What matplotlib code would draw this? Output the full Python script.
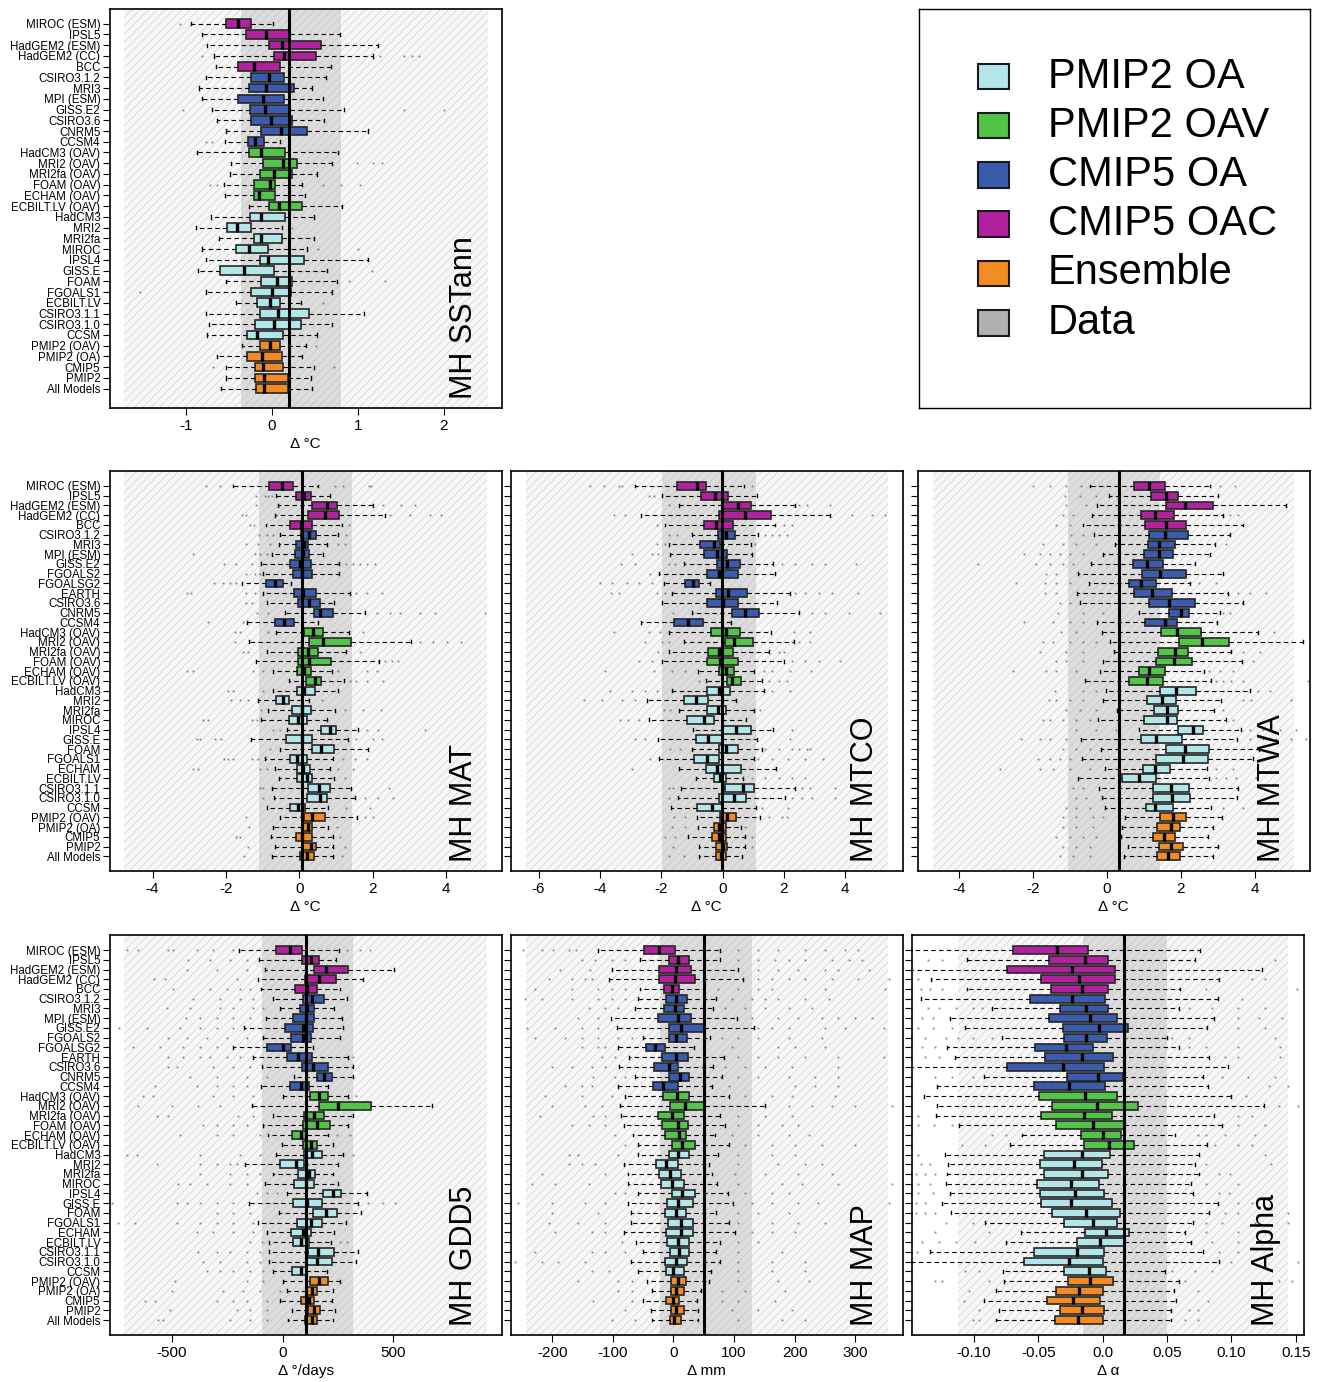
import matplotlib
matplotlib.use('Agg')
import matplotlib.pyplot as plt
from matplotlib.patches import Rectangle

plt.rcParams['font.family'] = ['Liberation Sans', 'DejaVu Sans']
plt.rcParams['axes.unicode_minus'] = False
plt.rcParams['hatch.linewidth'] = 0.45

'''
model names (top to bottom)
'''
sst_labels = ['MIROC (ESM)', 'IPSL5', 'HadGEM2 (ESM)', 'HadGEM2 (CC)', 'BCC',
              'CSIRO3.1.2', 'MRI3', 'MPI (ESM)', 'GISS.E2', 'CSIRO3.6', 'CNRM5', 'CCSM4',
              'HadCM3 (OAV)', 'MRI2 (OAV)', 'MRI2fa (OAV)', 'FOAM (OAV)', 'ECHAM (OAV)', 'ECBILT.LV (OAV)',
              'HadCM3', 'MRI2', 'MRI2fa', 'MIROC', 'IPSL4', 'GISS.E', 'FOAM', 'FGOALS1', 'ECBILT.LV',
              'CSIRO3.1.1', 'CSIRO3.1.0', 'CCSM',
              'PMIP2 (OAV)', 'PMIP2 (OA)', 'CMIP5', 'PMIP2', 'All Models']
land_labels = ['MIROC (ESM)', 'IPSL5', 'HadGEM2 (ESM)', 'HadGEM2 (CC)', 'BCC',
               'CSIRO3.1.2', 'MRI3', 'MPI (ESM)', 'GISS.E2', 'FGOALS2', 'FGOALSG2', 'EARTH', 'CSIRO3.6',
               'CNRM5', 'CCSM4',
               'HadCM3 (OAV)', 'MRI2 (OAV)', 'MRI2fa (OAV)', 'FOAM (OAV)', 'ECHAM (OAV)', 'ECBILT.LV (OAV)',
               'HadCM3', 'MRI2', 'MRI2fa', 'MIROC', 'IPSL4', 'GISS.E', 'FOAM', 'FGOALS1', 'ECHAM', 'ECBILT.LV',
               'CSIRO3.1.1', 'CSIRO3.1.0', 'CCSM',
               'PMIP2 (OAV)', 'PMIP2 (OA)', 'CMIP5', 'PMIP2', 'All Models']
sst_groups = ['CMIP5 OAC'] * 5 + ['CMIP5 OA'] * 7 + ['PMIP2 OAV'] * 6 + ['PMIP2 OA'] * 12 + ['Ensemble'] * 5
land_groups = ['CMIP5 OAC'] * 5 + ['CMIP5 OA'] * 10 + ['PMIP2 OAV'] * 6 + ['PMIP2 OA'] * 13 + ['Ensemble'] * 5

legend_names = ['PMIP2 OA', 'PMIP2 OAV', 'CMIP5 OA', 'CMIP5 OAC', 'Ensemble', 'Data']
legend_colors = ['#b2e6e8', '#52c447', '#3a5bae', '#b2229e', '#f28c22', '#b0b0b0']
group_colors = dict(zip(legend_names, legend_colors))

'''
box stats per row: [whisker low, q1, median, q3, whisker high]
'''
sst_stats = [[-0.94, -0.53, -0.39, -0.24, 0.01], [-0.81, -0.30, -0.07, 0.21, 0.79],
             [-0.75, -0.03, 0.12, 0.57, 1.23], [-0.67, 0.02, 0.14, 0.51, 1.18],
             [-0.65, -0.39, -0.21, 0.10, 0.69], [-0.77, -0.24, -0.03, 0.14, 0.63],
             [-0.85, -0.26, -0.07, 0.26, 0.47], [-0.81, -0.39, -0.10, 0.14, 0.59],
             [-0.70, -0.25, -0.08, 0.21, 0.84], [-0.64, -0.24, -0.01, 0.23, 0.61],
             [-0.53, -0.12, 0.11, 0.41, 1.12], [-0.54, -0.28, -0.19, -0.09, 0.09],
             [-0.87, -0.27, -0.12, 0.15, 0.77], [-0.47, -0.10, 0.13, 0.29, 0.70],
             [-0.49, -0.14, 0.03, 0.24, 0.53], [-0.56, -0.21, -0.02, 0.04, 0.35],
             [-0.54, -0.21, -0.15, 0.04, 0.39], [-0.26, -0.03, 0.08, 0.35, 0.82],
             [-0.71, -0.25, -0.12, 0.15, 0.49], [-0.88, -0.52, -0.40, -0.24, 0.12],
             [-0.61, -0.21, -0.12, 0.12, 0.49], [-0.81, -0.41, -0.26, -0.04, 0.41],
             [-0.77, -0.14, -0.04, 0.38, 1.12], [-0.86, -0.60, -0.32, 0.03, 0.64],
             [-0.53, -0.12, 0.06, 0.24, 0.76], [-0.76, -0.24, 0.00, 0.22, 0.70],
             [-0.41, -0.17, -0.02, 0.10, 0.34], [-0.76, -0.14, 0.07, 0.43, 1.07],
             [-0.73, -0.20, 0.02, 0.34, 0.70], [-0.75, -0.29, -0.17, 0.13, 0.53],
             [-0.35, -0.14, -0.02, 0.10, 0.40], [-0.64, -0.29, -0.11, 0.12, 0.35],
             [-0.53, -0.19, -0.10, 0.13, 0.49], [-0.53, -0.19, -0.09, 0.19, 0.45],
             [-0.59, -0.18, -0.09, 0.19, 0.47]]
sst_out = [[-1.07], [], [], [-0.81, 1.26, 1.54, 1.63, 1.71], [], [], [], [], [-1.03, 1.54, 2.0], [], [],
           [-0.76, -0.69], [], [0.99, 1.18, 1.28], [], [-0.72, -0.64, 0.59, 0.81, 1.02], [], [], [], [0.23],
           [], [0.54, 1.0], [], [1.16], [0.90, 1.31], [-1.53], [0.60], [], [], [], [0.51], [], [-0.68, 0.72],
           [], []]

mat_stats = [[-1.80, -0.82, -0.46, -0.16, 0.52], [-0.64, -0.09, 0.13, 0.31, 0.85],
             [-0.59, 0.35, 0.75, 1.04, 2.00], [-0.65, 0.25, 0.70, 1.09, 2.34],
             [-0.91, -0.25, 0.06, 0.36, 1.16], [-0.51, 0.06, 0.27, 0.47, 1.06],
             [-0.55, -0.08, 0.13, 0.25, 0.75], [-0.73, -0.12, 0.10, 0.28, 0.64],
             [-1.03, -0.25, 0.02, 0.32, 1.09], [-0.98, -0.17, 0.09, 0.36, 1.08],
             [-1.56, -0.90, -0.66, -0.45, -0.21], [-0.98, -0.14, 0.11, 0.47, 1.38],
             [-0.87, -0.02, 0.28, 0.57, 0.95], [-0.39, 0.40, 0.56, 0.93, 1.79],
             [-1.41, -0.65, -0.42, -0.13, 0.51], [-0.62, 0.14, 0.37, 0.64, 1.37],
             [-1.37, 0.26, 0.65, 1.40, 3.06], [-0.89, -0.03, 0.23, 0.50, 1.29],
             [-1.19, -0.02, 0.28, 0.88, 2.18], [-0.71, -0.06, 0.12, 0.33, 0.90],
             [-0.27, 0.19, 0.42, 0.60, 1.23], [-0.71, -0.05, 0.13, 0.42, 1.06],
             [-1.12, -0.62, -0.45, -0.28, 0.26], [-0.85, -0.19, 0.07, 0.33, 0.98],
             [-1.03, -0.29, -0.03, 0.21, 0.75], [-0.33, 0.60, 0.84, 1.01, 1.61],
             [-1.31, -0.35, 0.07, 0.36, 1.32], [-0.53, 0.34, 0.59, 0.96, 1.89],
             [-0.94, -0.24, -0.05, 0.22, 0.93], [-0.66, -0.07, 0.11, 0.30, 0.84],
             [-0.55, -0.05, 0.20, 0.34, 0.95], [-0.73, 0.23, 0.54, 0.85, 1.40],
             [-0.69, 0.20, 0.56, 0.77, 1.52], [-0.89, -0.26, -0.04, 0.15, 0.79],
             [-0.53, 0.13, 0.36, 0.71, 1.58], [-0.71, 0.08, 0.24, 0.35, 0.79],
             [-0.78, -0.09, 0.07, 0.35, 0.91], [-0.66, 0.08, 0.31, 0.45, 0.93],
             [-0.75, 0.03, 0.22, 0.40, 0.93]]
mat_out = [[-2.53, -2.16, 0.99, 1.2, 1.91, 1.97], [-1.19, -0.94, -0.85, -0.75], [-1.19, 2.29, 2.79, 3.15],
           [-1.57, -1.45, 2.47, 3.02, 3.56, 3.88], [-1.35, -1.24, 1.36], [-1.09, -0.89, -0.71, 1.29],
           [-1.44, -1.12, -0.8, 1.06, 1.25], [-2.89, -1.21, -1.07, -0.89],
           [-2.05, -1.71, -1.3, 1.29, 1.47, 1.65, 1.84, 2.06], [-1.44, -1.21, -1.07],
           [-2.32, -2.07, -1.89, -1.71], [-3.07, -2.96, -1.44, -1.21, 1.56, 1.84, 2.25], [-1.44, -1.3],
           [-1.16, -0.85, 2.11, 2.47, 2.75, 3.29, 3.7, 5.06], [-2.48, -1.53], [-1.75, -1.62, -0.85, 1.75],
           [-1.75, 3.29, 3.65, 4.02, 4.4], [-1.53, -1.39, 1.65], [2.34, 2.52, 2.7],
           [-3.07, -2.89, -1.25, -0.98, 1.06, 1.84, 2.11], [1.38, 1.56, 1.84, 2.29], [-1.94, -1.8, -0.98],
           [-1.86, -1.62, -1.39, 0.61], [-1.03, 1.25, 1.75, 2.22], [-2.62, -2.48, -1.3, -1.16],
           [-0.71, -0.53, 1.84, 2.15, 3.43], [-2.8, -2.71, -2.3, -2.12, 1.56, 2.02, 2.27], [-0.8],
           [-2.05, -1.94, -1.8, -1.3, -1.12, 1.2, 1.52, 1.84], [-2.89, -2.75, -1.07, -0.89, 1.06, 1.47],
           [1.25], [-1.07, -0.98, 2.45], [-1.0, 1.79, 2.15, 2.55], [1.29, 1.93], [-1.45, 1.79, 2.02],
           [-1.37, 1.02], [-1.71, -1.62, 1.11], [-1.39, 1.25], [-1.51, 1.17]]

mtco_stats = [[-2.87, -1.48, -0.84, -0.54, 0.71], [-1.98, -0.71, -0.24, 0.17, 1.14],
              [-1.41, -0.02, 0.49, 0.92, 2.37], [-2.65, -0.12, 0.72, 1.58, 3.51],
              [-1.87, -0.61, -0.22, 0.34, 1.72], [-1.00, -0.15, 0.11, 0.41, 1.17],
              [-1.76, -0.74, -0.29, -0.07, 0.92], [-1.71, -0.59, -0.17, 0.16, 0.96],
              [-1.27, -0.18, 0.15, 0.57, 1.64], [-2.07, -0.52, -0.10, 0.50, 1.72],
              [-1.92, -1.24, -0.95, -0.78, -0.40], [-1.65, -0.20, 0.17, 0.79, 2.21],
              [-1.98, -0.52, 0.03, 0.52, 1.79], [-1.00, 0.30, 0.72, 1.18, 2.48],
              [-2.65, -1.59, -1.11, -0.64, 0.28], [-1.76, -0.39, 0.10, 0.57, 1.58],
              [-1.27, 0.07, 0.37, 0.99, 2.32], [-1.76, -0.49, -0.12, 0.34, 1.50],
              [-1.98, -0.52, -0.08, 0.52, 1.99], [-0.80, -0.12, 0.10, 0.36, 1.04],
              [-0.54, 0.13, 0.32, 0.60, 1.28], [-1.65, -0.51, -0.13, 0.24, 1.34],
              [-2.46, -1.27, -0.86, -0.46, 0.45], [-1.43, -0.51, -0.15, 0.11, 1.01],
              [-2.41, -1.16, -0.62, -0.28, 0.77], [-0.95, 0.00, 0.43, 0.92, 1.66],
              [-2.12, -0.87, -0.46, -0.02, 1.12], [-1.00, -0.12, 0.11, 0.49, 1.28],
              [-2.07, -0.93, -0.52, -0.13, 1.01], [-1.41, -0.54, -0.17, 0.60, 1.74],
              [-0.87, -0.29, -0.07, 0.12, 0.68], [-1.36, 0.07, 0.66, 1.04, 2.37],
              [-1.46, -0.12, 0.37, 0.75, 2.04], [-1.68, -0.82, -0.35, -0.02, 1.09],
              [-0.84, -0.09, 0.13, 0.43, 1.23], [-0.80, -0.27, -0.10, 0.10, 0.60],
              [-1.11, -0.35, -0.13, 0.12, 0.74], [-0.78, -0.20, 0.00, 0.16, 0.72],
              [-0.78, -0.22, -0.04, 0.12, 0.65]]
mtco_out = [[-4.32, -3.88, -3.39, -3.28, 0.96], [-2.41, -2.25], [-1.76, 2.48, 2.75, 3.51],
            [-3.55, -3.17, 4.22, 4.87, 5.3], [-2.14, 1.99, 2.26], [-1.76, -1.49, 1.39, 1.61, 1.83, 2.1],
            [-2.14, -1.87, 1.07], [-2.96, -2.30, -2.09], [-3.3, -2.85, -1.76, -1.54, 1.93, 2.37, 2.91, 3.35, 4.36],
            [-2.36], [-3.99, -3.61, -3.12, -2.74, -2.30], [-3.63, -3.39, -2.14, -1.87, 2.37, 2.7, 3.13, 3.57, 4.43],
            [], [-1.6, 2.91, 3.35, 4.11, 5.14], [], [-3.55, -2.41, -2.03, 2.32, 2.86],
            [-2.52, -1.98, -1.76, 2.48, 2.86], [-2.09, 1.83, 1.99], [-2.74, -2.30, 2.26, 2.7, 3.13, 3.84],
            [-3.83, -2.25, -1.65, -1.22, 1.34, 1.61, 2.21, 2.89], [-0.78, 1.5, 1.83, 2.1],
            [-3.66, -2.96, -2.52, -2.14, 1.61, 2.21], [-4.51, -3.93, -3.28, -2.85], [-1.92, -1.71, 1.23],
            [-3.34, -3.07, -2.74], [2.28], [-2.85, -2.52, 2.21], [-1.71, -1.38, 1.39, 1.83, 2.26, 2.48, 2.75, 2.86],
            [-2.36, 1.17, 1.61, 2.15, 2.7, 3.29], [-2.96], [0.96, 1.39, 1.83, 2.26, 2.7],
            [-1.76, -1.6, 2.59, 2.86, 3.67], [-1.76, 2.26, 2.59, 2.91, 3.67], [1.28, 2.15],
            [-1.57, -1.22, 1.5, 1.93, 2.1], [-1.65, -1.22, 0.74], [-1.89, -1.54, 0.96], [-1.6, 0.96],
            [-1.76, -1.27]]

mtwa_stats = [[-0.47, 0.72, 1.14, 1.58, 2.79], [0.05, 1.19, 1.59, 1.93, 3.00],
              [-0.26, 1.59, 2.10, 2.88, 4.83], [-0.40, 0.91, 1.29, 1.81, 3.15],
              [-0.65, 1.02, 1.59, 2.14, 3.69], [-0.35, 1.14, 1.58, 2.19, 3.33],
              [0.23, 1.12, 1.40, 1.84, 2.91], [-0.11, 1.01, 1.40, 1.78, 2.79],
              [-0.42, 0.71, 1.09, 1.51, 2.37], [-0.78, 0.96, 1.44, 2.13, 3.15],
              [-0.49, 0.60, 0.91, 1.34, 2.25], [-0.81, 0.74, 1.23, 1.75, 3.27],
              [-0.74, 1.14, 1.69, 2.39, 3.68], [0.88, 1.68, 2.01, 2.23, 3.05],
              [-0.26, 1.03, 1.56, 1.89, 2.97], [-0.13, 1.46, 1.89, 2.55, 4.08],
              [0.07, 1.95, 2.58, 3.30, 5.30], [0.18, 1.38, 1.85, 2.19, 3.36],
              [-0.11, 1.32, 1.81, 2.30, 3.65], [-0.20, 0.87, 1.14, 1.58, 2.62],
              [-0.58, 0.59, 1.08, 1.51, 2.82], [-0.02, 1.44, 1.86, 2.41, 3.86],
              [-0.11, 1.07, 1.49, 1.87, 3.09], [0.27, 1.26, 1.63, 1.92, 2.89],
              [-0.24, 1.00, 1.63, 1.90, 3.21], [0.88, 1.92, 2.32, 2.61, 3.63],
              [-0.69, 0.93, 1.33, 2.04, 3.51], [-0.15, 1.59, 2.11, 2.77, 4.11],
              [-0.67, 1.34, 2.07, 2.73, 3.95], [-0.06, 0.98, 1.31, 1.70, 2.71],
              [-0.77, 0.40, 0.86, 1.34, 2.76], [-0.22, 1.25, 1.72, 2.23, 3.54],
              [-0.13, 1.25, 1.75, 2.25, 3.51], [-0.04, 1.05, 1.31, 1.78, 2.82],
              [0.50, 1.43, 1.78, 2.14, 3.12], [0.41, 1.35, 1.72, 1.97, 2.86],
              [0.39, 1.24, 1.53, 1.85, 2.73], [0.57, 1.42, 1.74, 2.06, 3.00],
              [0.46, 1.35, 1.66, 1.97, 2.86]]
mtwa_out = [[-2.0, -1.55, -1.1, -0.69, 3.05, 3.45], [-1.14, -0.74, -0.29], [-1.1, -0.56],
            [-1.19, -0.92, 3.32, 3.54], [-1.37, -1.01], [-0.96, -0.65], [-1.73, -1.19, -0.83, -0.29, 3.23],
            [-2.23, -1.82, -1.55, -1.28, -1.01, -0.65], [-3.49, -1.93, -1.55, -1.19, -0.92], [-1.66, -1.37],
            [-2.47, -1.68, -1.37, -1.01, 2.50, 2.95], [-1.68, -1.37, 3.54, 3.86, 4.31], [-1.28, -1.01],
            [-1.32, -0.65, -0.11, 3.14, 3.32], [-2.23, -1.46, -1.01, -0.65], [-1.23, -0.83, 4.53],
            [-1.73, -1.46, -1.01, -0.65, -0.29], [-1.82, -1.1, -0.65, 3.68, 4.13], [-1.37, -1.1, -0.65, 3.95],
            [-2.54, -1.64, -1.37, -0.83, 2.77, 3.05, 3.41], [2.95, 3.14, 3.36, 3.68, 5.43],
            [-1.41, -0.65, -0.29, 4.08, 4.40], [-1.57, -1.37, -1.01, -0.65, 3.68, 3.9, 4.98],
            [-1.1, -0.74, -0.29, 3.14], [-1.73, -1.55, -1.19, -0.83, -0.47, 3.41],
            [-0.83, -0.29, 0.25, 3.86, 4.22, 4.67, 5.12], [-2.32, -1.82, -1.55, -1.1, 3.86, 4.22, 4.58, 4.98, 5.39],
            [-1.19, -0.83, -0.47], [-1.86, -1.55, -1.28, -1.01], [-2.9, -1.82, -1.46, -1.01, -0.47, 2.95, 3.41],
            [2.95, 3.23, 3.50, 4.04], [-0.92, -0.65], [-0.83, -0.56], [-1.1, -0.83, -0.47, 3.14, 3.68],
            [-1.19, -0.83, -0.38, -0.11], [-1.19, -0.83, -0.38], [-1.37, -1.01, -0.65, -0.29],
            [-1.19, -0.83, -0.47], [-1.28, -0.92, -0.47]]

gdd_stats = [[-196, -30, 33, 86, 256], [-107, 89, 128, 163, 239], [-80, 143, 196, 294, 505],
             [-110, 99, 164, 242, 364], [-98, 56, 110, 157, 259], [-45, 93, 131, 188, 289],
             [-12, 78, 108, 140, 233], [-77, 48, 105, 140, 267], [-173, 11, 90, 139, 271],
             [-90, 38, 90, 130, 259], [-226, -69, 0, 38, 136], [-136, 21, 68, 134, 297],
             [-92, 86, 139, 206, 319], [51, 154, 188, 224, 319], [-99, 33, 83, 120, 206],
             [0, 123, 163, 206, 297], [-137, 166, 252, 401, 673], [-45, 95, 143, 187, 319],
             [-87, 90, 154, 214, 297], [-65, 41, 83, 111, 206], [-5, 93, 127, 157, 226],
             [-30, 95, 134, 176, 274], [-170, -12, 59, 95, 252], [-45, 68, 117, 148, 229],
             [-80, 53, 105, 140, 252], [18, 184, 226, 264, 380], [-151, 48, 108, 179, 342],
             [-15, 139, 196, 247, 354], [-113, 63, 128, 176, 286], [-72, 38, 90, 130, 233],
             [-60, 48, 83, 119, 217], [-60, 113, 161, 233, 342], [-60, 108, 154, 221, 331],
             [-45, 44, 83, 105, 199], [3, 122, 166, 203, 259], [18, 104, 131, 154, 226],
             [-12, 83, 119, 143, 224], [41, 116, 143, 169, 236], [26, 102, 131, 157, 226]]
gdd_out = [[-705, -652, -517, -494, -389, -313, -223, 289, 349, 395], [-426, -328, -238, -163],
           [-434, -298, -163], [-581, -532, -208], [-494, -328, -253, -193, -148], [-404, -283, -193, -133],
           [-524, -419, -283, -223, -133, -87], [-437, -373, -298, -223, -148],
           [-738, -614, -464, -373, -298, -223], [-517, -434, -343, -253, -163], [-675, -554, -449, -373, -298],
           [-517, -449, -373, -328, -253, -193, 319], [-517, -479, -313, -223, -148], [-419, -298, -163, -72],
           [-577, -389, -298, -223, -163], [-630, -584, -313, -223, -133, 331], [-652, -501, -381, -283],
           [-569, -517, -200, -133], [-358, -298, -223, -163], [-464, -298, -223, -102, 244, 304], [],
           [-705, -660, -373, -193, -102, 319], [-569, -373, -298, -238, -208], [-373, -238, -163, -102],
           [-471, -419, -343, -238, -163], [-117, -72, -27], [-773, -479, -434, -373, -298, -223, 387, 455, 508],
           [-298, -223, -148], [-742, -667, -479, -373, -298, -223, -133], [-389, -313, -223, -133],
           [-148, -95, 259, 289], [-381, -298, -238, -163, -102], [-358, -283, -163, -102],
           [-343, -283, -223, -148, -87], [-486, -163, -87], [-501, -268, -178, -102, -12],
           [-622, -577, -298, -223, -163, -72], [-509, -208, -148, -72], [-562, -539, -238, -148, -72]]

map_stats = [[-124, -48, -23, 3, 77], [-55, -8, 7, 26, 77], [-102, -23, 4, 29, 107], [-107, -23, 3, 35, 114],
             [-55, -15, -3, 10, 51], [-59, -13, 4, 22, 70], [-63, -15, 3, 18, 66], [-103, -25, 7, 29, 105],
             [-93, -8, 13, 51, 133], [-50, -7, 4, 22, 61], [-92, -46, -31, -14, 34], [-73, -18, 4, 24, 83],
             [-89, -32, -8, 8, 66], [-63, -8, 11, 26, 80], [-91, -34, -17, 7, 63], [-80, -17, 6, 26, 91],
             [-88, -5, 19, 52, 151], [-87, -26, -3, 17, 77], [-81, -19, 7, 24, 85], [-66, -14, 10, 20, 68],
             [-59, -3, 15, 36, 91], [-59, -8, 8, 25, 74], [-81, -28, -13, 7, 58], [-75, -24, -6, 12, 63],
             [-75, -21, -3, 17, 72], [-58, -3, 15, 35, 90], [-75, -10, 7, 33, 98], [-70, -14, 4, 21, 70],
             [-70, -9, 13, 32, 91], [-81, -13, 13, 33, 102], [-62, -10, 7, 25, 77], [-50, -5, 9, 25, 70],
             [-70, -14, 4, 23, 77], [-59, -13, -1, 18, 62], [-43, -4, 8, 20, 58], [-36, -4, 4, 18, 45],
             [-50, -12, -1, 9, 39], [-37, -4, 4, 18, 41], [-36, -6, 1, 13, 41]]
map_out = [[-248, -217, -198, -173, -160, 107, 140, 173, 217, 250, 283, 305],
           [-151, -129, -102, -80, 107, 140, 168, 190, 217, 261, 289, 311],
           [-187, -138, 140, 173, 206, 250, 272, 322], [-206, -168, -146, -135, 140, 162, 190, 217, 261, 305, 355],
           [-228, -168, -124, -102, -80, 74, 107, 140, 162, 250, 349],
           [-245, -217, -168, -124, -102, -80, 96, 129, 151, 173, 217, 256],
           [-140, -113, -91, 85, 118, 151, 190, 228], [-157, -124, 129, 173, 206, 245, 272, 300, 327],
           [-242, -195, -151, -124, 140, 162, 190, 250, 283, 347],
           [-228, -179, -151, -124, -91, -69, 80, 107, 140, 190, 245], [-151, -124, -113, 96, 173, 201, 250],
           [-118, -96, 107, 140, 173, 217, 272, 347], [-201, -168, -135, -113, 85, 118, 151, 195, 272],
           [-132, -96, -80, 107, 140, 190, 234, 272], [-179, -151, -135, 91, 201, 234, 272],
           [-212, -151, -102, 118, 162, 195, 267], [-201, -146, -118, 190, 228, 261, 300, 360],
           [-220, -132, -113, 107, 151, 195], [-168, -140, -113, 107, 140, 179, 206], [-96, 96, 140, 190, 223],
           [-80, 118, 162, 201, 245, 300], [-173, -157, -91, 107, 162, 201], [-173, -151, -129, 107, 173, 217, 245],
           [-217, -113, 102, 151, 206, 261], [-234, -195, -140, 107, 179, 212, 272, 360],
           [-96, -80, 118, 162, 190], [-256, -201, -146, -113, 129, 162, 206, 239, 355],
           [-201, -124, 107, 140, 190], [-206, -157, -113, 107, 162, 206, 250], [-195, -135, -113, 129, 162, 201],
           [-85, 107, 140], [-228, -135, -113, -80, 107, 179], [-261, -217, -190, -146, 107, 162, 217],
           [-135, -107, 107, 162, 217], [-157, -91, -69, 107, 173, 223], [-91, -69, 80, 118, 184],
           [-132, -69, 80, 107, 168], [-80, 96, 140, 195], [-102, -63, 107, 179, 217]]

alpha_stats = [[-0.150, -0.0698, -0.0354, -0.0114, 0.0757], [-0.1052, -0.0419, -0.0134, 0.0041, 0.0714],
               [-0.150, -0.0742, -0.0238, 0.0098, 0.1236], [-0.1329, -0.0481, -0.0184, 0.0098, 0.0905],
               [-0.1052, -0.0398, -0.0160, 0.0039, 0.0597], [-0.1409, -0.0566, -0.0238, 0.0021, 0.0892],
               [-0.0863, -0.0334, -0.0127, 0.0044, 0.0589], [-0.1187, -0.0419, -0.0101, 0.0111, 0.0861],
               [-0.1070, -0.0310, -0.0031, 0.0194, 0.0809], [-0.0781, -0.0302, -0.0132, 0.0036, 0.0499],
               [-0.1207, -0.0527, -0.0284, -0.0078, 0.0595], [-0.1148, -0.0445, -0.0158, 0.0078, 0.0827],
               [-0.150, -0.0742, -0.0310, 0.0008, 0.0972], [-0.0918, -0.0274, -0.0036, 0.0155, 0.0778],
               [-0.1285, -0.0535, -0.0261, 0.0021, 0.0817], [-0.1388, -0.0494, -0.0140, 0.0114, 0.0998],
               [-0.1285, -0.0393, -0.0047, 0.0271, 0.1249], [-0.1293, -0.0481, -0.0147, 0.0072, 0.0861],
               [-0.1117, -0.0362, -0.0078, 0.0163, 0.0926], [-0.0626, -0.0165, 0.0000, 0.0142, 0.0564],
               [-0.0721, -0.0147, 0.0047, 0.0240, 0.0809], [-0.1225, -0.0458, -0.0160, 0.0054, 0.0750],
               [-0.1200, -0.0483, -0.0220, -0.0003, 0.0719], [-0.1205, -0.0458, -0.0160, 0.0039, 0.0750],
               [-0.1220, -0.0509, -0.0246, -0.0026, 0.0685], [-0.1189, -0.0483, -0.0217, 0.0010, 0.0698],
               [-0.1246, -0.0476, -0.0248, 0.0070, 0.0895], [-0.1176, -0.0393, -0.0127, 0.0137, 0.0827],
               [-0.0910, -0.0302, -0.0078, 0.0109, 0.0698], [-0.0633, -0.0140, 0.0026, 0.0202, 0.0636],
               [-0.0750, -0.0202, -0.0023, 0.0168, 0.0685], [-0.1342, -0.0535, -0.0202, 0.0010, 0.0778],
               [-0.150, -0.0613, -0.0261, 0.0000, 0.0900], [-0.0773, -0.0300, -0.0109, 0.0026, 0.0481],
               [-0.0765, -0.0271, -0.0096, 0.0078, 0.0595], [-0.0832, -0.0365, -0.0181, 0.0000, 0.0551],
               [-0.0920, -0.0429, -0.0233, -0.0018, 0.0571], [-0.0807, -0.0334, -0.0160, 0.0010, 0.0530],
               [-0.0830, -0.0370, -0.0189, 0.0000, 0.0530]]
alpha_out = [[], [-0.136, -0.125, 0.134], [], [-0.143, 0.116, 0.126], [-0.141, -0.134, -0.125, 0.080, 0.151],
             [0.108], [-0.136, -0.127, -0.114, -0.101, -0.094, 0.067, 0.085, 0.105, 0.126],
             [-0.140, -0.132, 0.105, 0.121, 0.139], [-0.143, -0.132, -0.117, 0.105, 0.126],
             [-0.138, -0.122, -0.112, -0.101, -0.086, 0.054, 0.067, 0.134], [-0.140, -0.130, 0.067, 0.080, 0.105, 0.138],
             [-0.138, -0.127, 0.095, 0.105, 0.138], [], [-0.130, -0.117, -0.101, 0.093, 0.113, 0.134], [0.129, 0.144],
             [0.111], [0.137, 0.152], [-0.143, 0.105, 0.116], [-0.143, -0.131, -0.117, 0.105, 0.126],
             [-0.086, -0.075, 0.074, 0.080, 0.095, 0.118], [-0.109, -0.091, 0.087, 0.105, 0.116], [-0.143, 0.126],
             [-0.141, -0.134, 0.080, 0.131], [-0.145, -0.138, -0.130, 0.090, 0.099], [-0.143, -0.134, 0.080, 0.105],
             [-0.143, -0.132, 0.090, 0.098], [-0.145, -0.138, 0.105, 0.116],
             [-0.145, -0.138, -0.130, 0.095, 0.105, 0.144], [-0.122, -0.101, 0.080, 0.093, 0.118, 0.144],
             [-0.130, -0.088, 0.080, 0.105, 0.126], [-0.140, -0.127, -0.114, -0.099, 0.085, 0.105, 0.126],
             [-0.144, 0.090, 0.105], [0.100, 0.152], [-0.107, -0.096, 0.054, 0.072, 0.085],
             [-0.130, -0.125, -0.088, 0.064, 0.137, 0.147], [-0.104, 0.074], [-0.108, 0.082],
             [-0.096, 0.067, 0.074], [-0.101, -0.096, 0.064, 0.074]]

'''
data (pollen) reference: full range, inner range and median
'''
sst_data = [-1.72, -0.36, 0.20, 0.80, 2.51]
mat_data = [-4.78, -1.09, 0.08, 1.43, 5.13]
mtco_data = [-6.41, -1.99, -0.02, 1.09, 5.39]
mtwa_data = [-4.70, -1.05, 0.32, 1.44, 5.07]
gdd_data = [-715, -95, 105, 319, 925]
map_data = [-244, -22, 51, 129, 354]
alpha_data = [-0.1125, -0.0155, 0.0163, 0.050, 0.144]

fig = plt.figure(figsize=(13.22, 13.82), dpi=100)


def draw_panel(rect, stats, outs, groups, labels, ref, xlim, xticks, xticklabels, xlabel, name, ylim_pad,
               show_labels):
    ax = fig.add_axes(rect)
    n = len(stats)
    pos = [n - 1 - i for i in range(n)]
    ax.axvspan(ref[0], ref[4], facecolor='#f7f7f7', edgecolor='#cfcfcf', hatch='////', lw=0, zorder=0)
    ax.axvspan(ref[1], ref[3], facecolor='#dcdcdc', edgecolor='#c4c4c4', hatch='////', lw=0, zorder=0.5)
    bstats = [dict(whislo=s[0], q1=s[1], med=s[2], q3=s[3], whishi=s[4], fliers=o) for s, o in zip(stats, outs)]
    res = ax.bxp(bstats, positions=pos, widths=0.8, orientation='horizontal', patch_artist=True,
                 manage_ticks=False, capwidths=0.3,
                 boxprops=dict(edgecolor='#262626', linewidth=1.2),
                 whiskerprops=dict(color='k', linewidth=0.8, linestyle=(0, (4, 3))),
                 capprops=dict(color='k', linewidth=1.0),
                 medianprops=dict(color='k', linewidth=2.4, solid_capstyle='butt'),
                 flierprops=dict(marker='s', markersize=1.3, markerfacecolor='#707070',
                                 markeredgecolor='none', alpha=0.85))
    for box, g in zip(res['boxes'], groups):
        box.set_facecolor(group_colors[g])
    ax.axvline(ref[2], color='k', lw=2.2, zorder=5)
    ax.set_xlim(*xlim)
    ax.set_ylim(-ylim_pad[0], n - 1 + ylim_pad[1])
    ax.set_yticks(pos)
    if show_labels:
        ax.set_yticklabels(labels)
    else:
        ax.set_yticklabels([])
    ax.set_xticks(xticks)
    ax.set_xticklabels(xticklabels)
    ax.tick_params(axis='y', length=5, width=0.8, labelsize=8.3, pad=2)
    ax.tick_params(axis='x', length=5, width=0.8, labelsize=11, pad=3)
    ax.set_xlabel(xlabel, fontsize=11, labelpad=3)
    for sp in ax.spines.values():
        sp.set_linewidth(1.2)
    ax.text(0.905, 0.022, name, transform=ax.transAxes, rotation=90, ha='center', va='bottom',
            fontsize=22, zorder=6)
    return ax


row_h = 0.2894
top_b, mid_b, bot_b = 0.7048, 0.3698, 0.0340
col_w = 0.2962

draw_panel([0.0832, top_b, col_w, 0.2887], sst_stats, sst_out, sst_groups, sst_labels, sst_data,
           (-1.88, 2.67), [-1, 0, 1, 2], ['-1', '0', '1', '2'], 'Δ °C', 'MH SSTann', (1.8, 1.37), True)
draw_panel([0.0832, mid_b, col_w, row_h], mat_stats, mat_out, land_groups, land_labels, mat_data,
           (-5.16, 5.52), [-4, -2, 0, 2, 4], ['-4', '-2', '0', '2', '4'], 'Δ °C', 'MH MAT', (1.5, 1.54), True)
draw_panel([0.3865, mid_b, col_w, row_h], mtco_stats, mtco_out, land_groups, land_labels, mtco_data,
           (-6.90, 5.87), [-6, -4, -2, 0, 2, 4], ['-6', '-4', '-2', '0', '2', '4'], 'Δ °C', 'MH MTCO',
           (1.5, 1.54), False)
draw_panel([0.6944, mid_b, col_w, row_h], mtwa_stats, mtwa_out, land_groups, land_labels, mtwa_data,
           (-5.11, 5.48), [-4, -2, 0, 2, 4], ['-4', '-2', '0', '2', '4'], 'Δ °C', 'MH MTWA', (1.5, 1.54), False)
draw_panel([0.0832, bot_b, col_w, row_h], gdd_stats, gdd_out, land_groups, land_labels, gdd_data,
           (-780, 989), [-500, 0, 500], ['-500', '0', '500'], 'Δ °/days', 'MH GDD5', (1.54, 1.54), True)
draw_panel([0.3865, bot_b, col_w, row_h], map_stats, map_out, land_groups, land_labels, map_data,
           (-268, 378), [-200, -100, 0, 100, 200, 300], ['-200', '-100', '0', '100', '200', '300'],
           'Δ mm', 'MH MAP', (1.54, 1.54), False)
draw_panel([0.6899, bot_b, col_w, row_h], alpha_stats, alpha_out, land_groups, land_labels, alpha_data,
           (-0.148, 0.156), [-0.10, -0.05, 0.0, 0.05, 0.10, 0.15],
           ['-0.10', '-0.05', '0.0', '0.05', '0.10', '0.15'], 'Δ α', 'MH Alpha', (1.54, 1.54), False)

'''
legend panel
'''
leg = fig.add_axes([0.6952, top_b, 0.2958, 0.2887])
leg.set_xlim(0, 1)
leg.set_ylim(0, 1)
leg.set_xticks([])
leg.set_yticks([])
for sp in leg.spines.values():
    sp.set_linewidth(1.0)
leg_y = [0.83, 0.707, 0.584, 0.461, 0.338, 0.213]
for name, col, yy in zip(legend_names, legend_colors, leg_y):
    leg.add_patch(Rectangle((0.151, yy - 0.0315), 0.079, 0.063, facecolor=col, edgecolor='#1a1a1a', lw=1.5))
    leg.text(0.33, yy, name, fontsize=30, va='center', ha='left')

fig.savefig('out.png', dpi=100)
